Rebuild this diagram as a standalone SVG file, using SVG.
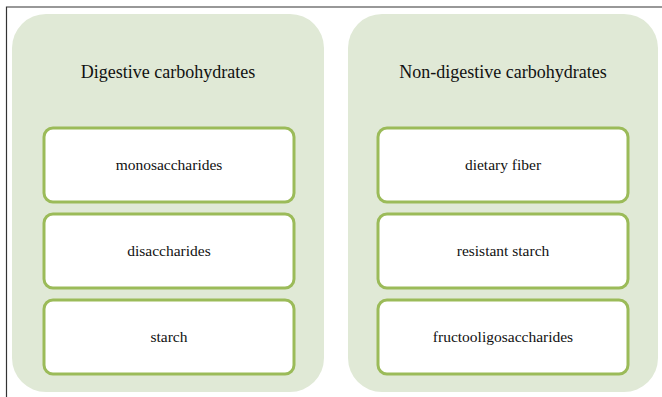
<svg xmlns="http://www.w3.org/2000/svg" width="662" height="397" viewBox="0 0 662 397">
<style>
.panel{fill:#e0e9d6;}
.box{fill:#ffffff;stroke:#9bbb59;stroke-width:3;}
text{font-family:'Liberation Serif','Times New Roman',serif;fill:#111;text-anchor:middle;}
.h{font-size:18px;}
.l{font-size:15.5px;}
</style>
<rect width="662" height="397" fill="#ffffff"/>
<path d="M6.5 397 V7 H662" fill="none" stroke="#333" stroke-width="1.2"/>
<g id="digestive">
<rect class="panel" x="12" y="14" width="312" height="378" rx="34"/>
<text class="h" x="168" y="78">Digestive carbohydrates</text>
</g>
<g id="nondigestive">
<rect class="panel" x="348" y="14" width="310" height="378" rx="34"/>
<text class="h" x="503" y="78">Non-digestive carbohydrates</text>
</g>
<g id="monosaccharides">
<rect class="box" x="44" y="128" width="250" height="74" rx="9"/>
<text class="l" x="169" y="170">monosaccharides</text>
</g>
<g id="disaccharides">
<rect class="box" x="44" y="214" width="250" height="74" rx="9"/>
<text class="l" x="169" y="256">disaccharides</text>
</g>
<g id="starch">
<rect class="box" x="44" y="300" width="250" height="74" rx="9"/>
<text class="l" x="169" y="342">starch</text>
</g>
<g id="dietary-fiber">
<rect class="box" x="378" y="128" width="250" height="74" rx="9"/>
<text class="l" x="503" y="170">dietary fiber</text>
</g>
<g id="resistant-starch">
<rect class="box" x="378" y="214" width="250" height="74" rx="9"/>
<text class="l" x="503" y="256">resistant starch</text>
</g>
<g id="fructooligosaccharides">
<rect class="box" x="378" y="300" width="250" height="74" rx="9"/>
<text class="l" x="503" y="342">fructooligosaccharides</text>
</g>
<g id="connectors"></g>
</svg>
